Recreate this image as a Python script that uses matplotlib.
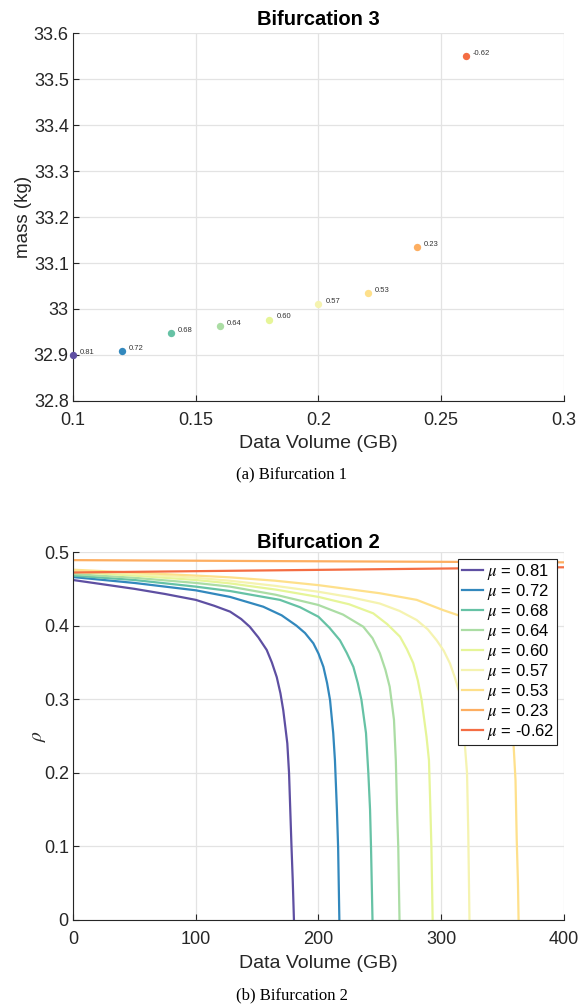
import numpy as np
import matplotlib
matplotlib.use("Agg")
import matplotlib.pyplot as plt

plt.rcParams['font.family'] = ['Liberation Sans', 'DejaVu Sans']
plt.rcParams['mathtext.fontset'] = 'stix'

# spectral palette, one colour per mu
kleurid = ["#5e4fa2", "#3288bd", "#66c2a5", "#abdda4", "#e6f598",
           "#f5f3b0", "#fee08b", "#fdae61", "#f46d43"]
mu_sildid = ["0.81", "0.72", "0.68", "0.64", "0.60", "0.57", "0.53", "0.23", "-0.62"]

# --- ülemine graafik: mass vs data volume ---
maht = [0.10, 0.12, 0.14, 0.16, 0.18, 0.20, 0.22, 0.24, 0.26]
mass = [32.899, 32.908, 32.947, 32.962, 32.977, 33.010, 33.034, 33.135, 33.550]

x_ticks1 = [0.1, 0.15, 0.2, 0.25, 0.3]
x_labels1 = ["0.1", "0.15", "0.2", "0.25", "0.3"]
y_ticks1 = [32.8, 32.9, 33.0, 33.1, 33.2, 33.3, 33.4, 33.5, 33.6]
y_labels1 = ["32.8", "32.9", "33", "33.1", "33.2", "33.3", "33.4", "33.5", "33.6"]

# --- alumine graafik: rho vs data volume ---
x_081 = [0, 25, 50, 75, 100, 115, 128, 137, 144, 151, 157.8, 162, 166, 169,
         171.3, 173, 174.6, 176, 177, 178, 179, 180]
r_081 = [0.462, 0.456, 0.450, 0.443, 0.435, 0.427, 0.419, 0.409, 0.3985, 0.384,
         0.367, 0.350, 0.330, 0.308, 0.285, 0.262, 0.240, 0.200, 0.150, 0.100,
         0.055, 0.0]
x_072 = [0, 50, 100, 128, 155, 170, 182, 189, 195.8, 200, 204, 207, 209.4,
         212, 213.4, 215, 216, 217]
r_072 = [0.466, 0.458, 0.448, 0.439, 0.4257, 0.414, 0.400, 0.390, 0.376, 0.362,
         0.344, 0.322, 0.299, 0.254, 0.217, 0.150, 0.098, 0.0]
x_068 = [0, 50, 100, 128, 168.6, 185, 200, 209, 217.5, 223, 228.4, 232, 235,
         238.7, 240.6, 242, 242.8, 244]
r_068 = [0.468, 0.462, 0.453, 0.447, 0.435, 0.425, 0.412, 0.397, 0.380, 0.363,
         0.344, 0.322, 0.299, 0.254, 0.200, 0.150, 0.098, 0.0]
x_064 = [0, 50, 100, 128, 165, 200, 220, 236.5, 244, 250, 254.5, 258, 261.5,
         263, 264, 265, 266]
r_064 = [0.470, 0.465, 0.458, 0.453, 0.442, 0.428, 0.415, 0.3985, 0.383, 0.3625,
         0.340, 0.317, 0.272, 0.217, 0.150, 0.098, 0.0]
x_060 = [0, 50, 100, 128, 165, 200, 225, 244.6, 256, 266.4, 272, 277.2, 281,
         284, 288, 290, 291, 292, 293]
r_060 = [0.473, 0.468, 0.462, 0.4574, 0.449, 0.439, 0.429, 0.4167, 0.402, 0.385,
         0.368, 0.349, 0.325, 0.299, 0.249, 0.217, 0.160, 0.098, 0.0]
x_057 = [0, 50, 100, 128, 165, 200, 225, 250, 266, 280, 289, 296.3, 302, 307,
         311, 315, 318, 321, 322, 323]
r_057 = [0.475, 0.470, 0.465, 0.461, 0.454, 0.446, 0.439, 0.430, 0.420, 0.4076,
         0.395, 0.380, 0.366, 0.349, 0.330, 0.308, 0.265, 0.200, 0.120, 0.0]
x_053 = [0, 50, 100, 128, 165, 200, 250, 280, 301.7, 314, 320, 335, 345, 352,
         356, 358.7, 360.5, 361.5, 362.5, 363]
r_053 = [0.476, 0.472, 0.468, 0.4656, 0.461, 0.455, 0.444, 0.435, 0.421, 0.414,
         0.405, 0.385, 0.362, 0.333, 0.300, 0.245, 0.190, 0.109, 0.050, 0.0]
x_023 = [0, 150, 314, 400]
r_023 = [0.489, 0.4878, 0.4866, 0.486]
x_m062 = [0, 150, 314, 400]
r_m062 = [0.4722, 0.4749, 0.4778, 0.4793]

kõverad_x = [x_081, x_072, x_068, x_064, x_060, x_057, x_053, x_023, x_m062]
kõverad_r = [r_081, r_072, r_068, r_064, r_060, r_057, r_053, r_023, r_m062]

x_ticks2 = [0, 100, 200, 300, 400]
y_ticks2 = [0, 0.1, 0.2, 0.3, 0.4, 0.5]
y_labels2 = ["0", "0.1", "0.2", "0.3", "0.4", "0.5"]

tume = "#262626"
ruudu_värv = "#e3e3e3"


def kujunda(ax):
    # matlab-like look: inward ticks, light grid, only left/bottom axis lines
    ax.grid(True, color=ruudu_värv, linewidth=0.9)
    ax.set_axisbelow(True)
    for s in ["top", "right"]:
        ax.spines[s].set_visible(False)
    for s in ["left", "bottom"]:
        ax.spines[s].set_color(tume)
        ax.spines[s].set_linewidth(0.8)
    ax.tick_params(direction="in", length=4, width=0.8, colors=tume,
                   labelsize=13)
    ax.tick_params(axis="x", pad=8)
    ax.tick_params(axis="y", pad=3)


fig = plt.figure(figsize=(5.83, 10.07), dpi=100)

ax1 = fig.add_axes([0.1252, 0.6018, 0.8422, 0.3654])
for i in range(len(maht)):
    ax1.scatter(maht[i], mass[i], s=28, color=kleurid[i], zorder=3,
                linewidths=0, clip_on=False)
    ax1.annotate(mu_sildid[i], (maht[i], mass[i]), xytext=(5, 2),
                 textcoords="offset points", fontsize=5.5, color="#333333",
                 va="center")
ax1.set_xlim(0.1, 0.3)
ax1.set_ylim(32.8, 33.6)
ax1.set_xticks(x_ticks1)
ax1.set_xticklabels(x_labels1)
ax1.set_yticks(y_ticks1)
ax1.set_yticklabels(y_labels1)
kujunda(ax1)
ax1.set_xlabel("Data Volume (GB)", fontsize=14, color=tume, labelpad=4)
ax1.set_ylabel("mass (kg)", fontsize=13.5, color=tume, labelpad=1)
ax1.set_title("Bifurcation 3", fontsize=14.5, fontweight="bold", pad=6)

ax2 = fig.add_axes([0.1252, 0.0864, 0.8422, 0.3654])
for i in range(len(mu_sildid)):
    ax2.plot(kõverad_x[i], kõverad_r[i], color=kleurid[i], linewidth=1.6,
             label=r"$\mu$ = " + mu_sildid[i])
ax2.set_xlim(0, 400)
ax2.set_ylim(0, 0.5)
ax2.set_xticks(x_ticks2)
ax2.set_yticks(y_ticks2)
ax2.set_yticklabels(y_labels2)
kujunda(ax2)
ax2.set_xlabel("Data Volume (GB)", fontsize=14, color=tume, labelpad=5)
ax2.set_ylabel(r"$\rho$", fontsize=14, color=tume, labelpad=-3)
ax2.set_title("Bifurcation 2", fontsize=14.5, fontweight="bold", pad=0)
leg = ax2.legend(loc="upper right", fontsize=12, fancybox=False,
                 framealpha=1, edgecolor="#222222", borderpad=0.2,
                 labelspacing=0.0, handlelength=1.3, handletextpad=0.2,
                 borderaxespad=0.4)
leg.get_frame().set_linewidth(0.8)

# alapealkirjad
fig.text(0.5, 1 - 475 / 1007, "(a) Bifurcation 1", ha="center", va="center",
         fontsize=12, family="Liberation Serif")
fig.text(0.5, 1 - 995 / 1007, "(b) Bifurcation 2", ha="center", va="center",
         fontsize=12, family="Liberation Serif")

fig.savefig("out.png", dpi=100)
